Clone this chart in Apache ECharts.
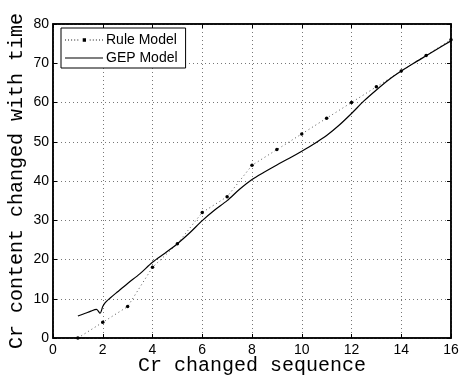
<!DOCTYPE html>
<html>
<head>
<meta charset="utf-8">
<script src="https://cdn.jsdelivr.net/npm/echarts@6/dist/echarts.min.js"></script>
<style>
html,body{margin:0;padding:0;background:#fff;}
#chart{width:459px;height:379px;}
</style>
</head>
<body>
<div id="chart"></div>
<script>
// Rule Model (discrete points)
const ruleX = [1,2,3,4,5,6,7,8,9,10,11,12,13,14,15,16];
const ruleY = [0,4,8,18,24,32,36,44,48,52,56,60,64,68,72,76];

// GEP Model (continuous curve)
const gepX = [1.0,1.3,1.5,1.75,1.89,2.0,2.1,2.3,2.6,3.0,3.5,4.0,4.5,5.0,5.5,6.0,6.5,7.0,7.5,8.0,8.5,9.0,9.5,10.0,10.5,11.0,11.5,12.0,12.5,13.0,13.5,14.0,14.5,15.0,15.5,16.0];
const gepY = [5.6,6.3,6.8,7.3,6.3,8.0,9.0,10.2,11.8,13.9,16.4,19.3,21.6,24.0,26.8,29.9,32.6,35.0,37.9,40.4,42.3,44.1,45.8,47.6,49.5,51.6,54.2,57.2,60.4,63.2,65.8,68.0,70.0,71.9,73.8,75.7];

const xTicks = [0,2,4,6,8,10,12,14,16];
const yTicks = [0,10,20,30,40,50,60,70,80];

const legendNames = ['Rule Model','GEP Model'];
const xTitle = 'Cr changed sequence';
const yTitle = 'Cr content changed with time';

const pair = (xs, ys) => xs.map((x, i) => [x, ys[i]]);

// legend icons: dotted line with a dot, and a solid line
let dotted = '';
for (let x = 0; x <= 36; x += 3) {
  if (x >= 15 && x <= 21) continue;
  dotted += 'M' + x + ',1.2h0.9v0.9h-0.9z';
}
dotted += 'M17.2,0h3.2v3.2h-3.2z';
const ruleIcon = 'path://' + dotted;
const gepIcon = 'path://M0,0h38v1.2h-38z';

const chart = echarts.init(document.getElementById('chart'), null, {renderer: 'canvas'});

const gridLine = {show: true, lineStyle: {color: '#777', type: [1, 3], width: 1}};
const tickIn = {show: true, inside: true, length: 4, lineStyle: {color: '#000', width: 1}};
const axLine = {show: true, onZero: false, lineStyle: {color: '#000', width: 1.5}};

chart.setOption({
  animation: false,
  backgroundColor: '#fff',
  grid: {left: 53, right: 8, top: 24, bottom: 41, containLabel: false, outerBoundsMode: 'none',
    show: true, borderColor: '#000', borderWidth: 1.5, backgroundColor: 'transparent'},
  legend: {
    orient: 'vertical',
    left: 61, top: 28,
    data: [
      {name: legendNames[0], icon: ruleIcon, itemStyle: {color: '#000', borderWidth: 0}},
      {name: legendNames[1], icon: gepIcon, itemStyle: {color: '#000', borderWidth: 0}}
    ],
    symbolKeepAspect: true,
    backgroundColor: '#fff',
    borderColor: '#000', borderWidth: 1,
    padding: [5, 8, 3, 4],
    itemGap: 4,
    itemWidth: 38, itemHeight: 12,
    textStyle: {fontFamily: 'Liberation Sans, Arial, sans-serif', fontSize: 14, color: '#000', padding: [0,0,0,-2]}
  },
  xAxis: [{
    type: 'value', min: 0, max: 16, interval: 2,
    position: 'bottom',
    name: xTitle, nameLocation: 'middle', nameGap: 18, nameMoveOverlap: false,
    nameTextStyle: {fontFamily: 'Liberation Mono, Courier New, monospace', fontSize: 20, color: '#000'},
    axisLine: axLine, axisTick: tickIn,
    axisLabel: {color: '#000', fontFamily: 'Liberation Sans, Arial, sans-serif', fontSize: 14, margin: 5,
      formatter: v => xTicks.includes(v) ? String(v) : ''},
    splitLine: gridLine
  }, {
    type: 'value', min: 0, max: 16, interval: 2,
    position: 'top',
    axisLine: axLine, axisTick: tickIn, axisLabel: {show: false}, splitLine: {show: false}
  }],
  yAxis: [{
    type: 'value', min: 0, max: 80, interval: 10,
    position: 'left',
    name: yTitle, nameLocation: 'middle', nameGap: 26, nameRotate: 90, nameMoveOverlap: false,
    nameTextStyle: {fontFamily: 'Liberation Mono, Courier New, monospace', fontSize: 20, color: '#000'},
    axisLine: axLine, axisTick: tickIn,
    axisLabel: {color: '#000', fontFamily: 'Liberation Sans, Arial, sans-serif', fontSize: 14, margin: 4,
      formatter: v => yTicks.includes(v) ? String(v) : ''},
    splitLine: gridLine
  }, {
    type: 'value', min: 0, max: 80, interval: 10,
    position: 'right',
    axisLine: axLine, axisTick: tickIn, axisLabel: {show: false}, splitLine: {show: false}
  }],
  series: [{
    name: legendNames[0],
    type: 'line',
    data: pair(ruleX, ruleY),
    symbol: 'circle', symbolSize: 3.5,
    itemStyle: {color: '#000'},
    lineStyle: {color: '#555', width: 1, type: [1, 3]},
    z: 3
  }, {
    name: legendNames[1],
    type: 'line',
    data: pair(gepX, gepY),
    symbol: 'none', showSymbol: false,
    smooth: 0.3,
    itemStyle: {color: '#000'},
    lineStyle: {color: '#000', width: 1.2},
    z: 4
  }]
});
</script>
</body>
</html>
